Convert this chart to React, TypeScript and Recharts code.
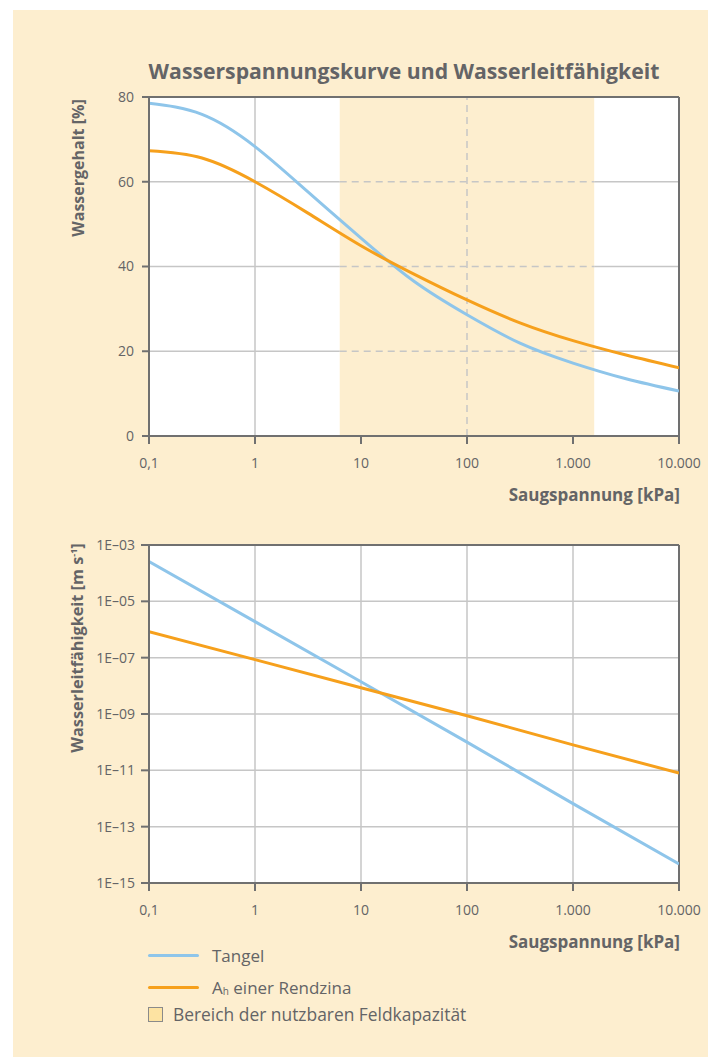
import { LineChart, Line, XAxis, YAxis, CartesianGrid, ReferenceArea, ReferenceLine } from 'recharts'

const xTicks = [0.1, 1, 10, 100, 1000, 10000]
const contentTicks = [0, 20, 40, 60, 80]
const conductivityTicks = [1e-3, 1e-5, 1e-7, 1e-9, 1e-11, 1e-13, 1e-15]

// Wasserspannungskurve: Saugspannung [kPa] (halbe Dekaden) -> Wassergehalt [%]
const suction = [0.1, 0.316, 1, 3.16, 10, 31.6, 100, 316, 1000, 3162, 10000]
const contentTangel = [78.5, 75.9, 68.3, 57.6, 46.7, 36.5, 28.6, 21.9, 17.2, 13.5, 10.6]
const contentRendzina = [67.3, 65.6, 60, 52.6, 44.9, 38.2, 32.1, 26.7, 22.5, 19.1, 16.1]

// Wasserleitfähigkeit: Saugspannung [kPa] -> [m s-1]
const conductivitySuction = [0.1, 1, 10, 100, 1000, 10000]
const conductivityTangel = [2.6e-4, 1.9e-6, 1.4e-8, 1.0e-10, 6.6e-13, 4.7e-15]
const conductivityRendzina = [8.3e-7, 8.5e-8, 8.5e-9, 8.7e-10, 8.0e-11, 8.0e-12]

// Bereich der nutzbaren Feldkapazität (pF 1,8 bis 4,2)
const usableFieldCapacity = [6.3, 1585]
const contentGrid = [20, 40, 60]

const retentionData = suction.map((x, i) => ({ x, tangel: contentTangel[i], rendzina: contentRendzina[i] }))
const conductivityData = conductivitySuction.map((x, i) => ({
  x,
  tangel: conductivityTangel[i],
  rendzina: conductivityRendzina[i],
}))

const FONT = '"Open Sans", "Noto Sans", sans-serif'
const TEXT = '#646466'
const AXIS = '#707070'
const GRID = '#c6c6c6'
const BLUE = '#8ec5ea'
const ORANGE = '#f6a01c'
const PANEL = '#fdeecf'

const formatSuction = (v: number) => {
  if (v < 1) return String(v).replace('.', ',')
  return String(v).replace(/\B(?=(\d{3})+(?!\d))/g, '.')
}
const formatPower = (v: number) => '1E\u2013' + String(Math.round(-Math.log10(v))).padStart(2, '0')

const tickStyle = { fill: TEXT, fontSize: 14, fontFamily: FONT }

function RetentionChart() {
  const [lo, hi] = usableFieldCapacity
  return (
    <LineChart width={708} height={480} data={retentionData} margin={{ top: 97, right: 29, left: 89, bottom: 4 }}>
      <XAxis
        dataKey="x"
        type="number"
        scale="log"
        domain={[0.1, 10000]}
        ticks={xTicks}
        allowDataOverflow
        tickFormatter={formatSuction}
        tick={tickStyle}
        tickSize={8}
        tickMargin={14}
        height={40}
        axisLine={{ stroke: AXIS, strokeWidth: 2 }}
        tickLine={{ stroke: AXIS, strokeWidth: 2 }}
      />
      <YAxis
        type="number"
        domain={[0, 80]}
        ticks={contentTicks}
        width={60}
        tick={tickStyle}
        tickSize={7}
        tickMargin={8}
        axisLine={{ stroke: AXIS, strokeWidth: 2 }}
        tickLine={{ stroke: AXIS, strokeWidth: 2 }}
      />
      <ReferenceArea x1={0.1} x2={10000} y1={0} y2={80} fill="#ffffff" fillOpacity={1} stroke="none" />
      <ReferenceArea x1={lo} x2={hi} y1={0} y2={80} fill={PANEL} fillOpacity={1} stroke="none" />
      {contentGrid.map((y) => (
        <ReferenceLine key={'a' + y} segment={[{ x: 0.1, y }, { x: lo, y }]} stroke={GRID} strokeWidth={1.5} />
      ))}
      {contentGrid.map((y) => (
        <ReferenceLine key={'b' + y} segment={[{ x: lo, y }, { x: hi, y }]} stroke={GRID} strokeWidth={1.5} strokeDasharray="7 5" />
      ))}
      {contentGrid.map((y) => (
        <ReferenceLine key={'c' + y} segment={[{ x: hi, y }, { x: 10000, y }]} stroke={GRID} strokeWidth={1.5} />
      ))}
      <ReferenceLine x={1} stroke={GRID} strokeWidth={1.5} />
      <ReferenceLine x={100} stroke={GRID} strokeWidth={1.5} strokeDasharray="7 5" />
      <ReferenceLine y={80} stroke={AXIS} strokeWidth={2} />
      <ReferenceLine x={10000} stroke={AXIS} strokeWidth={2} />
      <Line dataKey="tangel" type="natural" stroke={BLUE} strokeWidth={3} dot={false} isAnimationActive={false} />
      <Line dataKey="rendzina" type="natural" stroke={ORANGE} strokeWidth={3} dot={false} isAnimationActive={false} />
    </LineChart>
  )
}

function ConductivityChart() {
  return (
    <LineChart width={708} height={450} data={conductivityData} margin={{ top: 65, right: 29, left: 89, bottom: 7 }}>
      <CartesianGrid stroke={GRID} strokeWidth={1.5} fill="#ffffff" fillOpacity={1} />
      <XAxis
        dataKey="x"
        type="number"
        scale="log"
        domain={[0.1, 10000]}
        ticks={xTicks}
        allowDataOverflow
        tickFormatter={formatSuction}
        tick={tickStyle}
        tickSize={8}
        tickMargin={14}
        height={40}
        axisLine={{ stroke: AXIS, strokeWidth: 2 }}
        tickLine={{ stroke: AXIS, strokeWidth: 2 }}
      />
      <YAxis
        type="number"
        scale="log"
        domain={[1e-15, 1e-3]}
        ticks={conductivityTicks}
        allowDataOverflow
        tickFormatter={formatPower}
        width={60}
        tick={tickStyle}
        tickSize={8}
        tickMargin={6}
        axisLine={{ stroke: AXIS, strokeWidth: 2 }}
        tickLine={{ stroke: AXIS, strokeWidth: 2 }}
      />
      <ReferenceLine y={1e-3} stroke={AXIS} strokeWidth={2} />
      <ReferenceLine x={10000} stroke={AXIS} strokeWidth={2} />
      <Line dataKey="tangel" type="linear" stroke={BLUE} strokeWidth={3} dot={false} isAnimationActive={false} />
      <Line dataKey="rendzina" type="linear" stroke={ORANGE} strokeWidth={3} dot={false} isAnimationActive={false} />
    </LineChart>
  )
}

const abs = (left: number, top: number): React.CSSProperties => ({ position: 'absolute', left, top })

export default function App() {
  const bold: React.CSSProperties = { fontFamily: FONT, fontWeight: 700, color: TEXT, whiteSpace: 'nowrap', lineHeight: 1 }
  const regular: React.CSSProperties = { fontFamily: FONT, color: TEXT, whiteSpace: 'nowrap', lineHeight: 1, fontSize: 17 }
  return (
    <div style={{ position: 'absolute', left: 0, top: 0, width: 708, height: 1057, overflow: 'hidden', background: '#fff' }}>
      <div style={{ position: 'absolute', left: 13, top: 10, right: 0, bottom: 0, background: PANEL }} />
      <div style={{ ...bold, ...abs(404, 71), fontSize: 21.2, transform: 'translate(-50%, -50%)' }}>
        Wasserspannungskurve und Wasserleitfähigkeit
      </div>
      <div style={abs(0, 0)}>
        <RetentionChart />
      </div>
      <div style={abs(0, 480)}>
        <ConductivityChart />
      </div>
      <div style={{ ...bold, ...abs(78, 168), fontSize: 16, transform: 'translate(-50%, -50%) rotate(-90deg)' }}>
        Wassergehalt [%]
      </div>
      <div style={{ ...bold, ...abs(77, 648), fontSize: 16.3, transform: 'translate(-50%, -50%) rotate(-90deg)' }}>
        Wasserleitfähigkeit [m s<sup style={{ fontSize: 9, verticalAlign: 6 }}>-1</sup>]
      </div>
      <div style={{ ...bold, ...abs(680, 494), fontSize: 17, transform: 'translate(-100%, -50%)' }}>
        Saugspannung [kPa]
      </div>
      <div style={{ ...bold, ...abs(680, 941), fontSize: 17, transform: 'translate(-100%, -50%)' }}>
        Saugspannung [kPa]
      </div>

      <div style={{ ...abs(148, 954), width: 51, height: 3, background: BLUE, borderRadius: 2 }} />
      <div style={{ ...regular, ...abs(212, 955), transform: 'translateY(-50%)' }}>Tangel</div>
      <div style={{ ...abs(148, 986), width: 51, height: 3, background: ORANGE, borderRadius: 2 }} />
      <div style={{ ...regular, ...abs(212, 987), transform: 'translateY(-50%)' }}>
        A<sub style={{ fontSize: 10, verticalAlign: -1 }}>h</sub> einer Rendzina
      </div>
      <div
        style={{
          ...abs(148, 1007),
          width: 13,
          height: 13,
          background: '#fde3a2',
          border: '1px solid #8a8a8a',
        }}
      />
      <div style={{ ...regular, ...abs(173, 1015), fontSize: 17.4, transform: 'translateY(-50%)' }}>
        Bereich der nutzbaren Feldkapazität
      </div>
    </div>
  )
}
